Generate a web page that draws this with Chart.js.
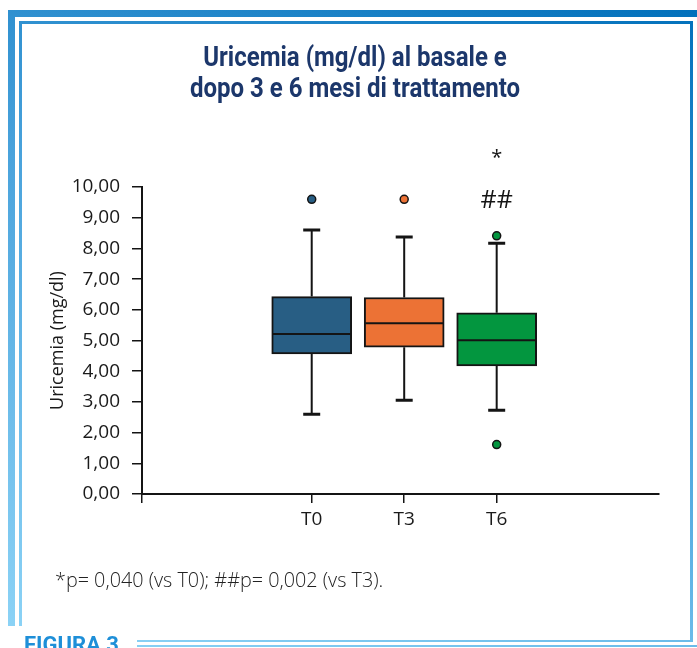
<!DOCTYPE html>
<html>
<head>
<meta charset="utf-8">
<script src="https://cdn.jsdelivr.net/npm/chart.js@4.4.1/dist/chart.umd.min.js"></script>
<style>
  html, body { margin: 0; padding: 0; background: #ffffff; }
  body { width: 697px; height: 648px; position: relative; overflow: hidden; }
  .rule { position: absolute; background: linear-gradient(200deg, #006fba 0%, #4aa3dc 45%, #8fd5f7 100%); background-attachment: fixed; }
  #chart { position: absolute; left: 0; top: 0; z-index: 1; }
  .title { position: absolute; left: 105px; width: 500px; top: 42px; text-align: center; font-family: Roboto, sans-serif; font-weight: 700; font-size: 27px; line-height: 31px; color: #1c376b; transform: scaleX(0.89); transform-origin: 50% 0; z-index: 2; }
  .note { position: absolute; left: 55px; top: 570px; font-family: "Open Sans", sans-serif; font-weight: 300; font-size: 19.8px; line-height: 19px; color: #222; white-space: nowrap; z-index: 2; }
  .fig { position: absolute; left: 24px; top: 634px; font-family: Roboto, sans-serif; font-weight: 700; font-size: 22px; line-height: 22px; color: #1e8fd8; white-space: nowrap; z-index: 2; }
</style>
</head>
<body>
<!-- outer band -->
<div class="rule" style="left:8px; top:10px; width:689px; height:7px;"></div>
<div class="rule" style="left:8px; top:10px; width:7px; height:616px;"></div>
<!-- inner frame -->
<div class="rule" style="left:19px; top:21px; width:674px; height:3px;"></div>
<div class="rule" style="left:19px; top:21px; width:3px; height:605px;"></div>
<div class="rule" style="left:690px; top:21px; width:3px; height:621px;"></div>
<div class="rule" style="left:137px; top:640px; width:556px; height:2px;"></div>
<div class="rule" style="left:137px; top:645px; width:560px; height:2px;"></div>

<div class="title">Uricemia (mg/dl) al basale e<br>dopo 3 e 6 mesi di trattamento</div>
<div class="note">*p= 0,040 (vs T0); ##p= 0,002 (vs T3).</div>
<div class="fig">FIGURA 3</div>

<canvas id="chart" width="697" height="648"></canvas>

<script>
// Groups and their positions on the x scale
const categories = ['T0', 'T3', 'T6'];
const positions = [1, 2, 3];

// Box plot statistics (mg/dl)
const q1 = [4.56, 4.78, 4.17];
const median = [5.21, 5.56, 5.01];
const q3 = [6.43, 6.40, 5.90];
const whiskerLow = [2.60, 3.05, 2.73];
const whiskerHigh = [8.60, 8.37, 8.17];

// Outlying values per group
const outliers = [[9.60], [9.60], [8.41, 1.61]];

// Significance marks drawn above the T6 box
const sigMarks = [
  { group: 2, value: 11.09, text: '*', size: 20 },
  { group: 2, value: 9.62, text: '##', size: 25 }
];

const boxColors = ['#285e84', '#ec7235', '#03963f'];
const yTickValues = [0, 1, 2, 3, 4, 5, 6, 7, 8, 9, 10];
const X_MIN = -0.835, X_MAX = 4.755;

const ink = '#141414';
const tickFont = { family: 'Open Sans', size: 19 };

const boxData = positions.map((x, i) => ({ x: x, y: [q1[i], q3[i]] }));
const outlierData = [];
const outlierColors = [];
outliers.forEach((vals, i) => vals.forEach(v => {
  outlierData.push({ x: positions[i], y: v });
  outlierColors.push(boxColors[i]);
}));

// Whiskers, caps and median lines for each box
const boxDetails = {
  id: 'boxDetails',
  afterDatasetDraw(chart, args) {
    if (args.index !== 0) return;
    const ctx = chart.ctx;
    const y = chart.scales.y;
    const meta = chart.getDatasetMeta(0);
    ctx.save();
    ctx.strokeStyle = ink;
    meta.data.forEach((bar, i) => {
      const cx = bar.x;
      const half = bar.width / 2;
      // whisker stems
      ctx.lineWidth = 2;
      ctx.beginPath();
      ctx.moveTo(cx, y.getPixelForValue(q3[i]));
      ctx.lineTo(cx, y.getPixelForValue(whiskerHigh[i]));
      ctx.moveTo(cx, y.getPixelForValue(q1[i]));
      ctx.lineTo(cx, y.getPixelForValue(whiskerLow[i]));
      ctx.stroke();
      // caps
      ctx.lineWidth = 3;
      ctx.beginPath();
      [whiskerHigh[i], whiskerLow[i]].forEach(v => {
        const py = y.getPixelForValue(v);
        ctx.moveTo(cx - 8.5, py);
        ctx.lineTo(cx + 8.5, py);
      });
      ctx.stroke();
      // median
      ctx.lineWidth = 2;
      ctx.beginPath();
      const my = y.getPixelForValue(median[i]);
      ctx.moveTo(cx - half + 1, my);
      ctx.lineTo(cx + half - 1, my);
      ctx.stroke();
    });
    ctx.restore();
  },
  afterDraw(chart) {
    const ctx = chart.ctx;
    const x = chart.scales.x;
    const y = chart.scales.y;
    ctx.save();
    ctx.fillStyle = ink;
    ctx.textAlign = 'center';
    ctx.textBaseline = 'alphabetic';
    sigMarks.forEach(m => {
      ctx.font = m.size + 'px "Open Sans"';
      const mt = ctx.measureText(m.text);
      const px = x.getPixelForValue(positions[m.group]);
      const py = y.getPixelForValue(m.value);
      ctx.fillText(m.text, px, py + (mt.actualBoundingBoxAscent - mt.actualBoundingBoxDescent) / 2);
    });
    ctx.restore();
  }
};

new Chart(document.getElementById('chart'), {
  type: 'bar',
  data: {
    datasets: [
      {
        type: 'bar',
        data: boxData,
        backgroundColor: boxColors,
        borderColor: ink,
        borderWidth: 2,
        borderSkipped: false,
        barThickness: 80
      },
      {
        type: 'scatter',
        data: outlierData,
        pointBackgroundColor: outlierColors,
        pointBorderColor: ink,
        pointBorderWidth: 1.5,
        pointRadius: 4,
        showLine: false
      }
    ]
  },
  options: {
    responsive: false,
    animation: false,
    events: [],
    layout: { padding: { left: 20, top: 187, right: 38, bottom: 114 } },
    plugins: { legend: { display: false }, tooltip: { enabled: false } },
    scales: {
      x: {
        type: 'linear',
        min: X_MIN,
        max: X_MAX,
        offset: false,
        afterBuildTicks(scale) {
          scale.ticks = [X_MIN].concat(positions).map(v => ({ value: v }));
        },
        afterFit(scale) { scale.height = 40; },
        ticks: {
          autoSkip: false,
          maxRotation: 0,
          padding: 5,
          color: '#1a1a1a',
          font: tickFont,
          callback: (v) => {
            const i = positions.indexOf(v);
            return i >= 0 ? categories[i] : '';
          }
        },
        grid: { offset: false, drawOnChartArea: false, drawTicks: true, tickLength: 9, color: ink, lineWidth: 1.5 },
        border: { display: true, color: ink, width: 2 }
      },
      y: {
        type: 'linear',
        min: 0,
        max: 10,
        afterBuildTicks(scale) {
          scale.ticks = yTickValues.map(v => ({ value: v }));
        },
        afterFit(scale) { scale.width = 122; },
        ticks: {
          padding: 12,
          color: '#1a1a1a',
          font: tickFont,
          callback: (v) => v.toFixed(2).replace('.', ',')
        },
        grid: { drawOnChartArea: false, drawTicks: true, tickLength: 10, color: ink, lineWidth: 1.5 },
        border: { display: true, color: ink, width: 2 },
        title: {
          display: true,
          text: 'Uricemia (mg/dl)',
          color: '#1a1a1a',
          font: { family: 'Open Sans', size: 18 },
          padding: { top: 27, bottom: 0 }
        }
      }
    }
  },
  plugins: [boxDetails]
});
</script>
</body>
</html>
